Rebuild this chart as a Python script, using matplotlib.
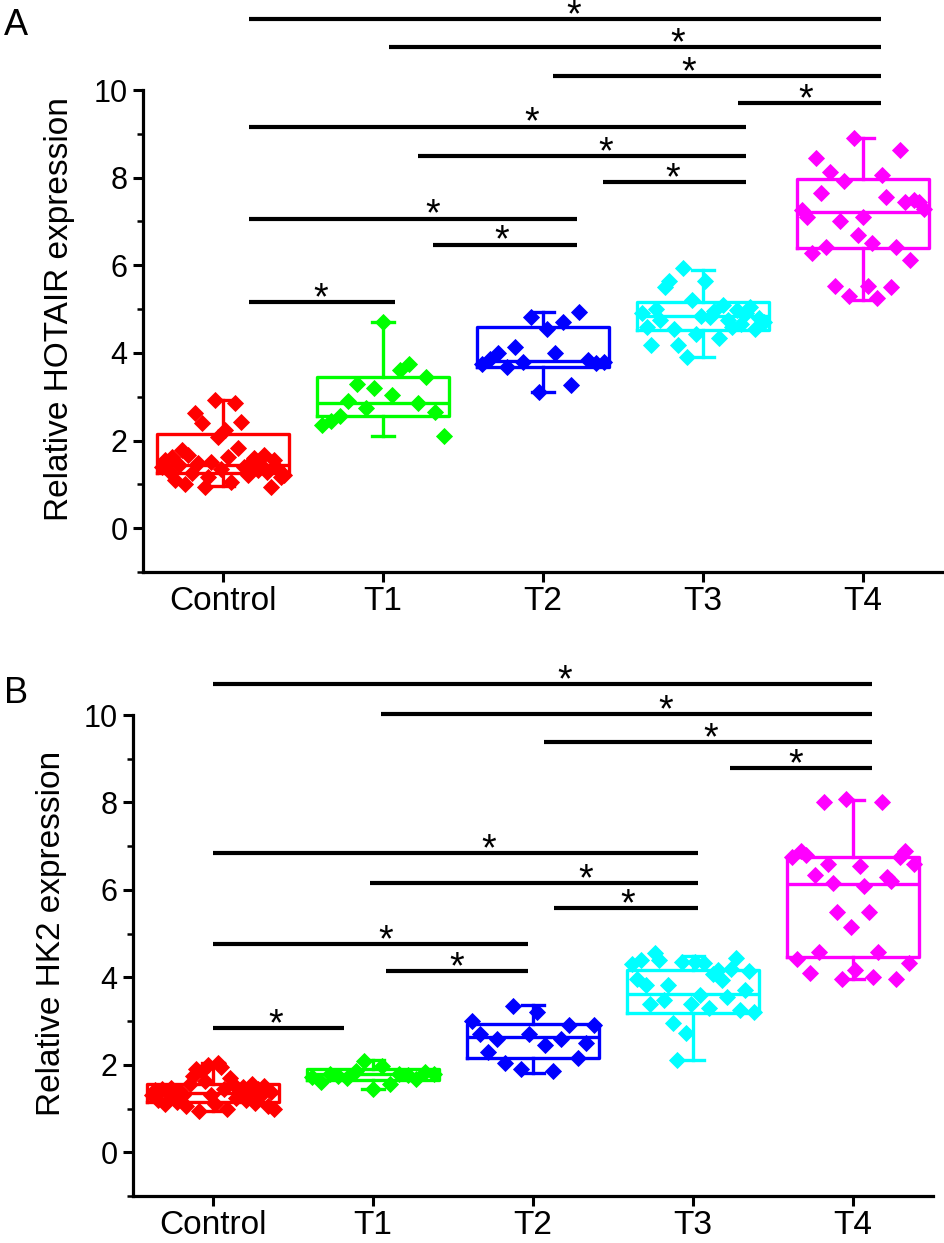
import matplotlib
matplotlib.use('Agg')
import matplotlib.pyplot as plt
import numpy as np
from matplotlib.ticker import MultipleLocator

plt.rcParams['font.family'] = ['Liberation Sans', 'DejaVu Sans']

categories = ['Control', 'T1', 'T2', 'T3', 'T4']
colors = ['#ff0000', '#00ff00', '#0000ff', '#00ffff', '#ff00ff']

# ---------------- Panel A: HOTAIR ----------------
a_control = [1.40, 1.55, 1.31, 1.62, 1.10, 1.45, 1.78, 1.00, 1.67, 1.25, 2.62, 1.48,
             2.39, 0.95, 1.17, 1.52, 2.92, 2.09, 1.35, 2.24, 1.63, 1.05, 2.85, 1.82,
             2.43, 1.40, 1.21, 1.51, 1.60, 1.32, 1.45, 1.67, 1.28, 0.95, 1.55, 1.38,
             1.17, 1.22]
a_t1 = [2.35, 2.45, 2.55, 2.90, 3.30, 2.75, 3.20, 4.70, 3.05, 3.60, 3.75, 2.85,
        3.45, 2.65, 2.10]
a_t2 = [3.75, 3.85, 3.99, 3.68, 4.14, 3.80, 4.82, 3.11, 4.55, 3.99, 4.71, 3.26,
        4.94, 3.84, 3.76, 3.80]
a_t3 = [4.90, 4.60, 4.18, 5.00, 4.75, 5.51, 5.63, 4.55, 4.18, 5.93, 3.90, 5.20,
        4.44, 4.85, 5.63, 4.82, 4.95, 4.33, 5.10, 4.75, 4.60, 4.98, 4.67, 4.90,
        5.05, 4.55, 4.80, 4.70]
a_t4 = [7.26, 7.11, 6.27, 8.44, 7.64, 6.42, 8.14, 5.52, 7.00, 7.92, 5.30, 8.90,
        6.69, 7.11, 5.52, 6.50, 5.25, 8.07, 7.55, 5.50, 6.42, 8.62, 7.45, 6.12,
        7.49, 7.45, 7.29]
a_q1 = [1.25, 2.55, 3.68, 4.52, 6.39]
a_med = [1.45, 2.85, 3.82, 4.85, 7.22]
a_q3 = [2.15, 3.45, 4.60, 5.16, 7.97]
a_wlo = [0.97, 2.10, 3.10, 3.90, 5.20]
a_whi = [2.92, 4.70, 4.93, 5.90, 8.90]
# significance bars: start x, end x, height, star x (category units)
a_sig_start = [0.16, 1.04, 2.06, 3.22, 0.16, 1.22, 2.375, 0.16, 1.31, 0.16]
a_sig_end = [4.11, 4.11, 4.11, 4.11, 3.27, 3.27, 3.27, 2.21, 2.21, 1.075]
a_sig_y = [11.62, 10.98, 10.32, 9.70, 9.16, 8.49, 7.90, 7.06, 6.47, 5.16]
a_star_x = [2.19, 2.84, 2.91, 3.64, 1.93, 2.39, 2.81, 1.31, 1.74, 0.61]

# ---------------- Panel B: HK2 ----------------
b_control = [1.30, 1.42, 1.20, 1.45, 1.10, 1.35, 1.48, 1.25, 1.15, 1.40, 1.32, 1.05,
             1.55, 1.75, 1.90, 0.95, 1.85, 1.62, 2.00, 1.30, 1.10, 2.05, 1.95, 1.45,
             1.00, 1.70, 1.55, 1.25, 1.40, 1.50, 1.20, 1.35, 1.55, 1.12, 1.45, 1.30,
             1.52, 1.05, 1.38, 1.00]
b_t1 = [1.72, 1.60, 1.78, 1.75, 1.70, 1.85, 2.08, 1.45, 1.98, 1.55, 1.80, 1.76,
        1.68, 1.84, 1.80]
b_t2 = [3.00, 2.70, 2.30, 2.60, 2.05, 3.35, 1.90, 2.70, 3.20, 2.45, 1.85, 2.60,
        2.90, 2.15, 2.50, 2.90]
b_t3 = [4.30, 3.97, 4.40, 3.82, 3.40, 4.55, 4.40, 3.48, 3.82, 2.95, 2.10, 4.35,
        2.72, 3.40, 4.35, 3.60, 4.32, 3.30, 4.08, 4.16, 3.94, 3.55, 4.20, 4.45,
        3.25, 3.70, 4.15, 3.20]
b_t4 = [6.76, 4.43, 6.88, 6.80, 4.09, 6.35, 4.58, 8.02, 6.60, 6.15, 5.50, 3.97,
        8.07, 5.15, 4.16, 6.55, 6.10, 5.50, 4.00, 4.58, 8.02, 6.30, 6.20, 3.97,
        6.76, 6.88, 4.32, 6.60]
b_q1 = [1.15, 1.66, 2.15, 3.18, 4.47]
b_med = [1.36, 1.78, 2.64, 3.63, 6.13]
b_q3 = [1.57, 1.90, 2.94, 4.16, 6.76]
b_wlo = [0.95, 1.45, 1.82, 2.10, 3.97]
b_whi = [2.05, 2.10, 3.36, 4.50, 8.05]
b_sig_start = [0.0, 1.05, 2.07, 3.23, 0.0, 0.98, 2.13, 0.0, 1.08, 0.0]
b_sig_end = [4.12, 4.12, 4.12, 4.12, 3.03, 3.03, 3.03, 1.97, 1.97, 0.82]
b_sig_y = [10.71, 10.02, 9.38, 8.79, 6.84, 6.16, 5.58, 4.76, 4.14, 2.84]
b_star_x = [2.20, 2.83, 3.11, 3.64, 1.72, 2.33, 2.59, 1.08, 1.52, 0.39]


def draw_panel(ax, groups, q1, med, q3, wlo, whi, sig_start, sig_end, sig_y, star_x,
               ylabel, ylabel_x):
    stats = []
    for i in range(len(categories)):
        stats.append(dict(med=med[i], q1=q1[i], q3=q3[i], whislo=wlo[i],
                          whishi=whi[i], fliers=[], label=categories[i]))
    res = ax.bxp(stats, positions=range(len(categories)), widths=0.82,
                 capwidths=0.14, showfliers=False, patch_artist=False,
                 manage_ticks=False)
    lw = 2.4
    for i, c in enumerate(colors):
        res['boxes'][i].set(color=c, linewidth=lw)
        res['medians'][i].set(color=c, linewidth=lw)
        for k in (2 * i, 2 * i + 1):
            res['whiskers'][k].set(color=c, linewidth=lw)
            res['caps'][k].set(color=c, linewidth=lw)
    for i, (vals, c) in enumerate(zip(groups, colors)):
        n = len(vals)
        xs = i + np.linspace(-0.38, 0.38, n)
        ax.plot(xs, vals, 'D', ms=7.8, color=c, mec=c, mew=0.6, zorder=3,
                linestyle='none')

    for x0, x1, y, sx in zip(sig_start, sig_end, sig_y, star_x):
        ax.plot([x0, x1], [y, y], color='black', lw=3.0, clip_on=False,
                solid_capstyle='butt', zorder=4)
        ax.annotate('*', xy=(sx, y), xytext=(0, -5), textcoords='offset points',
                    ha='center', va='baseline', fontsize=27, annotation_clip=False)

    ax.set_xlim(-0.5, 4.5)
    ax.set_ylim(-1, 10)
    ax.spines['top'].set_visible(False)
    ax.spines['right'].set_visible(False)
    for s in ('left', 'bottom'):
        ax.spines[s].set_linewidth(2.3)
    ax.set_xticks(range(len(categories)))
    ax.set_xticklabels(categories)
    ax.yaxis.set_major_locator(MultipleLocator(2))
    ax.yaxis.set_minor_locator(MultipleLocator(1))
    ax.set_yticks(range(0, 11, 2))
    ax.tick_params(axis='both', which='major', length=7, width=2.2, direction='out')
    ax.tick_params(axis='y', which='minor', length=4, width=1.8, direction='out')
    ax.tick_params(axis='y', labelsize=22, pad=4)
    ax.tick_params(axis='x', labelsize=24, pad=3)
    ax.set_ylabel(ylabel, fontsize=24, va='center')
    ax.yaxis.set_label_coords(ylabel_x, 0.545)


fig = plt.figure(figsize=(9.45, 12.43), dpi=100)
axA = fig.add_axes([143 / 945, 1 - 572 / 1243, 800 / 945, 482 / 1243])
axB = fig.add_axes([133 / 945, 1 - 1196 / 1243, 800 / 945, 481 / 1243])

draw_panel(axA, [a_control, a_t1, a_t2, a_t3, a_t4], a_q1, a_med, a_q3, a_wlo, a_whi,
           a_sig_start, a_sig_end, a_sig_y, a_star_x,
           'Relative HOTAIR expression', -0.104)
draw_panel(axB, [b_control, b_t1, b_t2, b_t3, b_t4], b_q1, b_med, b_q3, b_wlo, b_whi,
           b_sig_start, b_sig_end, b_sig_y, b_star_x,
           'Relative HK2 expression', -0.102)

fig.text(4 / 945, 1 - 35 / 1243, 'A', fontsize=26, va='baseline', ha='left')
fig.text(4 / 945, 1 - 703 / 1243, 'B', fontsize=26, va='baseline', ha='left')

fig.savefig('out.png', dpi=100)
